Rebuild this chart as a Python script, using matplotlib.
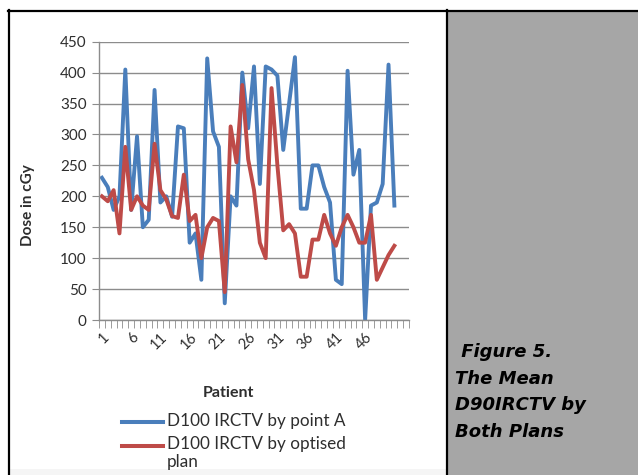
import matplotlib
matplotlib.use("Agg")
import matplotlib.pyplot as plt
from matplotlib.lines import Line2D
from matplotlib.patches import Rectangle
from matplotlib.ticker import FixedLocator, MultipleLocator

# patients 1..51, dose (cGy) for each plan
patients = list(range(1, 52))
point_a = [230, 215, 178, 200, 405, 178, 297, 150, 162, 372,
           190, 200, 167, 313, 310, 125, 140, 65, 423, 305,
           280, 27, 200, 185, 400, 310, 410, 220, 410, 405,
           395, 275, 350, 425, 180, 180, 250, 250, 215, 190,
           65, 58, 403, 235, 275, 0, 185, 190, 220, 413,
           185]
optimised = [200, 192, 210, 140, 280, 178, 200, 185, 178, 285,
             210, 195, 168, 165, 235, 160, 170, 100, 150, 165,
             160, 45, 313, 255, 380, 260, 210, 125, 100, 375,
             250, 145, 155, 140, 70, 70, 130, 130, 170, 140,
             120, 150, 170, 150, 125, 125, 170, 65, 85, 105,
             120]
series_names = ["D100 IRCTV by point A", "D100 IRCTV by optised", "plan"]
caption = [" Figure 5.", "The Mean", "D90IRCTV by", "Both Plans"]
colors = ["#4a7ebb", "#be4b48"]

W, H = 638, 475


def fx(x):
    return x / W


def fy(y):
    return 1 - y / H


fig = plt.figure(figsize=(W / 100, H / 100), dpi=100)
fig.patch.set_facecolor("white")

# table cells around the chart
fig.add_artist(Rectangle((fx(448), 0), fx(W) - fx(448), fy(11),
                         transform=fig.transFigure, facecolor="#a6a6a6",
                         edgecolor="none"))
fig.add_artist(Rectangle((fx(10), 0), fx(446) - fx(10), fy(469),
                         transform=fig.transFigure, facecolor="#f5f5f5",
                         edgecolor="none"))
for xs, ys in [((fx(8), fx(W)), (fy(10.5), fy(10.5))),
               ((fx(8.5), fx(8.5)), (fy(10), 0)),
               ((fx(447), fx(447)), (fy(10), 0))]:
    fig.add_artist(Line2D(xs, ys, color="black", lw=1.6,
                          transform=fig.transFigure))

txt_font = ["Lato", "DejaVu Sans"]
txt_col = "#2e2e2e"
ax = fig.add_axes([fx(99), fy(320), fx(409) - fx(99), fy(41.7) - fy(320)])
x = list(range(len(patients)))
ax.plot(x, point_a, color=colors[0], lw=2.8, solid_joinstyle="round")
ax.plot(x, optimised, color=colors[1], lw=2.8, solid_joinstyle="round")

ax.set_xlim(-0.5, 52.5)
ax.set_ylim(0, 450)
ax.yaxis.set_major_locator(MultipleLocator(50))
ax.grid(axis="y", color="#8c8c8c", lw=1.0)
ax.set_axisbelow(True)
for s in ["top", "right"]:
    ax.spines[s].set_visible(False)
for s in ["left", "bottom"]:
    ax.spines[s].set_color("#8c8c8c")
    ax.spines[s].set_linewidth(1.0)

lab_pos = list(range(0, 46, 5))
ax.xaxis.set_major_locator(FixedLocator(lab_pos))
ax.set_xticklabels([str(patients[i]) for i in lab_pos], rotation=45,
                   ha="right", va="top", rotation_mode="anchor",
                   fontsize=10.5, family=txt_font, color=txt_col)
ax.xaxis.set_minor_locator(FixedLocator([i - 0.5 for i in range(54)]))
ax.tick_params(axis="x", which="major", length=0, pad=7)
ax.tick_params(axis="x", which="minor", length=6, color="#8c8c8c")
ax.tick_params(axis="y", length=5, color="#8c8c8c", labelsize=11,
               labelcolor=txt_col, pad=4)
for t in ax.get_yticklabels():
    t.set_family(txt_font)

fig.text(fx(28), fy(205), "Dose in cGy", rotation=90, ha="center",
         va="center", fontsize=11, weight="bold", family=txt_font,
         color=txt_col)
fig.text(fx(228), fy(393), "Patient", ha="center", va="center",
         fontsize=11.5, weight="bold", family=txt_font, color=txt_col)

# legend keys and labels below the axis title
for k, yk in enumerate([422, 446]):
    fig.add_artist(Line2D([fx(122), fx(163)], [fy(yk), fy(yk)],
                          color=colors[k], lw=2.9,
                          transform=fig.transFigure))
for name, yk in zip(series_names, [421, 444, 462]):
    fig.text(fx(167), fy(yk), name, ha="left", va="center",
             fontsize=12.3, family=txt_font, color=txt_col)

for k, line in enumerate(caption):
    fig.text(fx(455), fy(352 + 26.7 * k), line, ha="left", va="center",
             fontsize=13, weight="bold", style="italic",
             family="DejaVu Sans", color="black")

fig.savefig("out.png", dpi=100)
